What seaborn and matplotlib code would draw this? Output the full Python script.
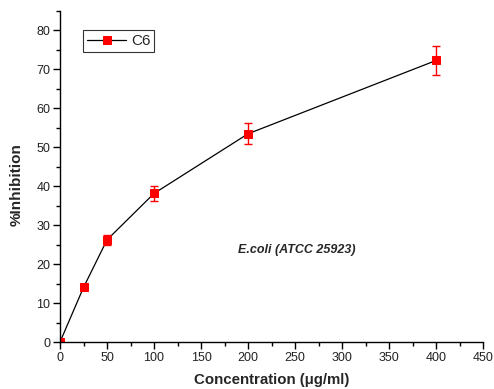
import pandas as pd
import matplotlib.pyplot as plt
import seaborn as sns
from matplotlib.ticker import MultipleLocator

konsantrasyon = [0, 25, 50, 100, 200, 400]
inhibisyon = [0.0, 14.0, 26.2, 38.1, 53.4, 72.2]
hata = [0.0, 0.5, 1.3, 1.9, 2.7, 3.6]

veri = pd.DataFrame({"Konsantrasyon": konsantrasyon, "Inhibisyon": inhibisyon, "Hata": hata})

sns.set_theme(style="ticks")
plt.rcParams['font.family'] = ['Liberation Sans', 'DejaVu Sans']

fig = plt.figure(figsize=(4.94, 3.89), dpi=100)
ax = fig.add_axes([0.1215, 0.1208, 0.8563, 0.852])

sns.lineplot(x="Konsantrasyon", y="Inhibisyon", data=veri, ax=ax, color="black",
             linewidth=0.9, marker="s", markersize=5.5, markerfacecolor="red",
             markeredgecolor="red", label="C6")
ax.errorbar(veri["Konsantrasyon"], veri["Inhibisyon"], yerr=veri["Hata"], fmt="none",
            ecolor="red", elinewidth=1, capsize=3, capthick=1)

ax.set_xlim(0, 450)
ax.set_ylim(0, 85)
ax.xaxis.set_major_locator(MultipleLocator(50))
ax.xaxis.set_minor_locator(MultipleLocator(25))
ax.yaxis.set_major_locator(MultipleLocator(10))
ax.yaxis.set_minor_locator(MultipleLocator(5))
ax.tick_params(which="major", direction="out", length=5, width=1, labelsize=9, color="black",
               labelcolor="#222222", pad=2)
ax.tick_params(which="minor", direction="out", length=3, width=1, color="black")
sns.despine(ax=ax)
for s in ["left", "bottom"]:
    ax.spines[s].set_color("black")
    ax.spines[s].set_linewidth(1)

ax.set_xlabel("Concentration (μg/ml)", fontsize=10.8, fontweight="bold")
ax.set_ylabel("%Inhibition", fontsize=11, fontweight="bold")
ax.xaxis.set_label_coords(0.5, -0.095)
ax.yaxis.set_label_coords(-0.085, 0.474)

ax.text(252, 23.6, "E.coli (ATCC 25923)", fontsize=9, fontweight="bold", fontstyle="italic",
        ha="center", va="center")

leg = ax.legend(loc="upper left", bbox_to_anchor=(0.054, 0.94), fontsize=11, frameon=True,
                fancybox=False, edgecolor="black", handlelength=2.6, handletextpad=0.3,
                borderpad=0.25, borderaxespad=0)
leg.get_frame().set_linewidth(0.8)

plt.savefig("out.png", dpi=100)
plt.close()
